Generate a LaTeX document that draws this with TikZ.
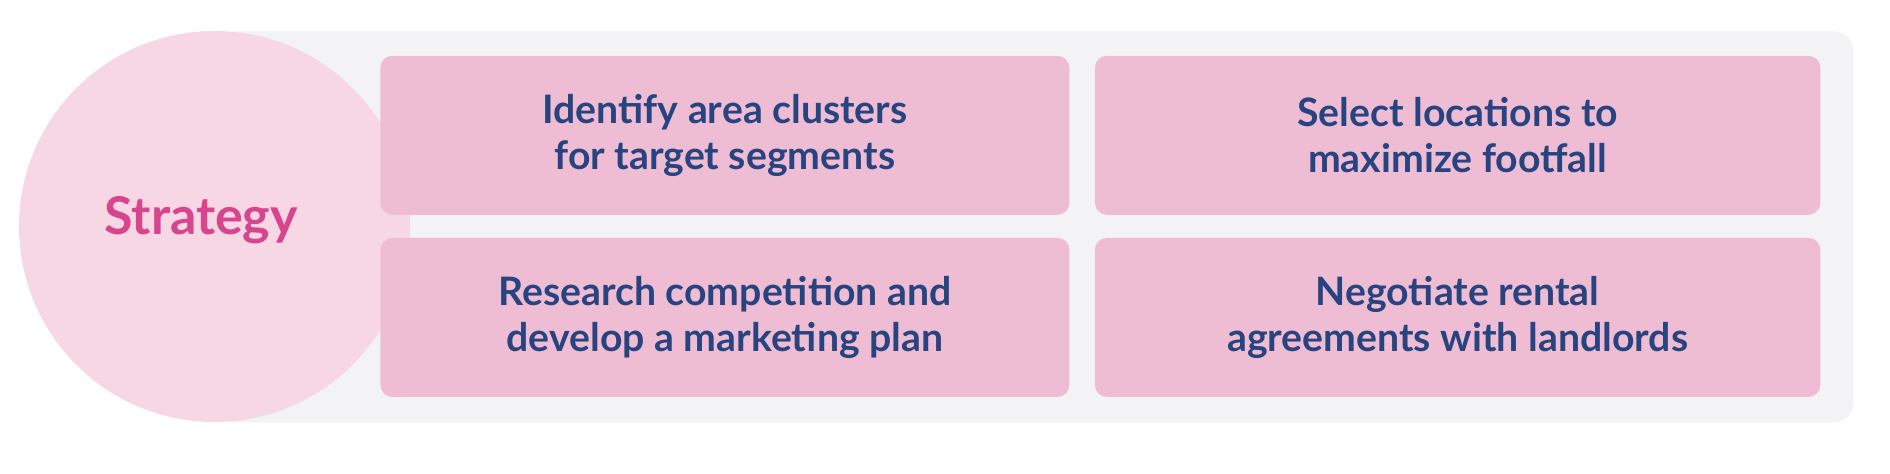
\documentclass[tikz,border=0pt]{standalone}
\usepackage{fontspec}
\setmainfont{Lato}[UprightFont=* Bold]
\definecolor{bggray}{HTML}{F3F2F4}
\definecolor{circpink}{HTML}{F6D7E3}
\definecolor{boxpink}{HTML}{EFBDD3}
\definecolor{navy}{HTML}{284480}
\definecolor{magenta}{HTML}{D8458F}
\begin{document}
\begin{tikzpicture}[x=0.5pt,y=-0.5pt,
  stepbox/.style={rectangle, rounded corners=6pt, fill=boxpink, draw=none, align=center,
    text=navy, font=\fontsize{19.6}{23.2}\selectfont, inner sep=0pt},
  leftbox/.style={stepbox, minimum width=344.5pt, minimum height=79.5pt},
  rightbox/.style={stepbox, minimum width=362.75pt, minimum height=79.5pt}]
\useasboundingbox (0,0) rectangle (1890,474);
\fill[white] (0,0) rectangle (1890,474);
\node[fill=bggray, rounded corners=10pt, minimum width=819.5pt, minimum height=195.5pt, inner sep=0pt, anchor=north west] (bg) at (214,31) {};
\node[circle, fill=circpink, minimum size=195.5pt, inner sep=0pt] (strat) at (214.5,226.5) {};
\node[text=magenta, font=\fontsize{26}{30}\selectfont] (stratlabel) at (201,220) {Strategy};
\node[leftbox, anchor=north west] (b1) at (380,55.4) {Identify area clusters\\for target segments};
\node[leftbox, anchor=north west] (b2) at (380,237.5) {Research competition and\\develop a marketing plan};
\node[rightbox, anchor=north west] (b3) at (1094.5,55.4) {Select locations to\\maximize footfall};
\node[rightbox, anchor=north west] (b4) at (1094.5,237.5) {Negotiate rental\\agreements with landlords};
\end{tikzpicture}
\end{document}
